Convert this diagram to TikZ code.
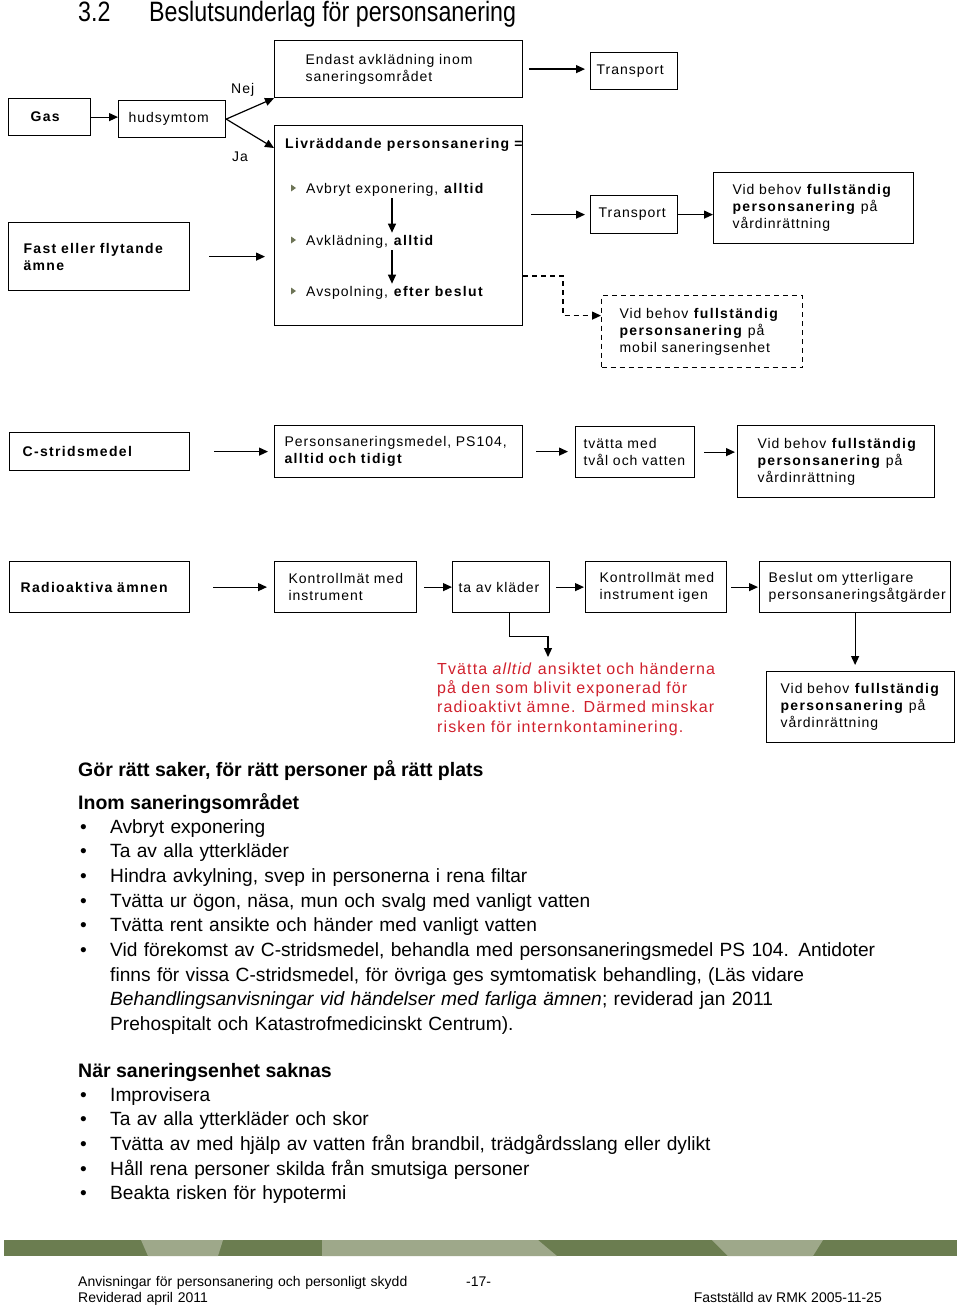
\documentclass[tikz,border=0pt]{standalone}
\usepackage{fontspec}
\setmainfont{Liberation Sans}
\newfontfamily\dia{Liberation Sans}[LetterSpace=7, BoldFeatures={LetterSpace=9.5}]
\newfontfamily\titlefont{Liberation Sans}[FakeStretch=0.83]
\usepackage{tikz}
\usetikzlibrary{arrows.meta}
\definecolor{barDark}{RGB}{107,125,80}
\definecolor{barLight}{RGB}{158,168,138}
\definecolor{warnRed}{RGB}{208,32,44}
\definecolor{triGreen}{RGB}{110,117,87}
\newcommand{\diatext}{\dia\fontsize{14}{17}\selectfont}
\newcommand{\listtext}{\fontsize{19.15}{24.7}\selectfont}

\tikzset{
  box/.style n args={3}{draw, line width=1.2pt, anchor=north west,
    inner xsep=0pt, inner ysep=0pt, align=left, font=\diatext,
    text width=#1pt, minimum height=#2pt,
    execute at begin node={\leftskip=#3pt}},
  pil/.style={-{Triangle[length=9pt,width=8pt]}, line width=1.2pt},
  dpil/.style={pil, dash pattern=on 5pt off 4pt},
  txt/.style={font=\diatext, inner sep=0pt, anchor=base west},
  listrad/.style={font=\listtext, inner sep=0pt, anchor=base west, align=left},
  rubrad/.style={listrad, font=\fontsize{19.5}{24.7}\selectfont\bfseries},
}

\begin{document}
\begin{tikzpicture}[x=1pt,y=-1pt]
\useasboundingbox (0,0) rectangle (960,1306);
\node[anchor=base west, inner sep=0pt, font=\titlefont\fontsize{28}{32}\selectfont] (nr) at (78,22) {3.2};
\node[anchor=base west, inner sep=0pt, font=\titlefont\fontsize{28}{32}\selectfont] (rubrik) at (149,22) {Beslutsunderlag för personsanering};

% gas
\node[box={82}{37}{22}] (gas) at (8,98) {\textbf{Gas}};
\node[box={107}{37}{10}] (hud) at (118,100) {hudsymtom};
\node[box={248}{57}{31}] (endast) at (274,40) {Endast avklädning inom\\saneringsområdet};
\node[box={87}{37}{6}] (trans1) at (590,52) {Transport};
\node[box={248}{200}{0}] (livr) at (274,125) {};
\node[txt] (nej) at (231,93) {Nej};
\node[txt] (ja) at (232,161) {Ja};

\draw[pil] (gas.east) -- (gas.east -| hud.west);
\draw[pil] (hud.east) -- (endast.south west);
\draw[pil] (hud.east) -- ([yshift=-23pt]livr.north west);
\draw[pil, shorten <=6pt, shorten >=5pt] (endast.east) -- (endast.east -| trans1.west);

% livraddande
\node[txt] (livrh) at (285,148) {\textbf{Livräddande personsanering =}};
\node[txt, inner ysep=2pt] (i1) at (306,193) {Avbryt exponering, \textbf{alltid}};
\node[txt, inner ysep=2pt] (i2) at (306,245) {Avklädning, \textbf{alltid}};
\node[txt, inner ysep=2pt] (i3) at (306,296) {Avspolning, \textbf{efter beslut}};
\foreach \y in {188,240,291}
  \fill[triGreen] (291,\y-3.5) -- (296,\y) -- (291,\y+3.5) -- cycle;
\coordinate (ax) at (392,0);
\draw[pil] (i1.south -| ax) -- (i2.north -| ax);
\draw[pil] (i2.south -| ax) -- (i3.north -| ax);

\node[box={181}{68}{15}] (fast) at (8,222) {\textbf{Fast eller flytande}\\\textbf{ämne}};
\node[box={87}{38}{8}] (trans2) at (590,195) {Transport};
\node[box={200}{71}{19}] (vard1) at (713,172) {Vid behov \textbf{fullständig}\\\textbf{personsanering} på\\vårdinrättning};
\node[box={201}{72}{18}, dash pattern=on 5pt off 4pt] (mob) at (601,295) {Vid behov \textbf{fullständig}\\\textbf{personsanering} på\\mobil saneringsenhet};

\draw[pil, shorten <=19pt, shorten >=9pt] (fast.east) -- (fast.east -| livr.west);
\draw[pil, shorten <=8pt, shorten >=5pt] (trans2.west -| livr.east) -- (trans2.west);
\draw[pil] (trans2.east) -- (trans2.east -| vard1.west);
\coordinate (dk) at (563,276);
\coordinate (mobin) at ([yshift=16pt]mob.west);
\draw[dpil] (livr.east |- dk) -- (dk) -- (dk |- mobin) -- (mobin);

% c-stridsmedel
\node[box={180}{38}{13}] (cstr) at (9,432) {\textbf{C-stridsmedel}};
\node[box={248}{52}{10}] (psm) at (274,425) {Personsaneringsmedel, PS104,\\\textbf{alltid och tidigt}};
\node[box={119}{51}{8}] (tvatta) at (575,426) {tvätta med\\tvål och vatten};
\node[box={197}{72}{20}] (vard2) at (737,425) {Vid behov \textbf{fullständig}\\\textbf{personsanering} på\\vårdinrättning};

\draw[pil, shorten <=24pt, shorten >=6pt] (cstr.east) -- (cstr.east -| psm.west);
\draw[pil, shorten <=13pt, shorten >=7pt] (psm.east) -- (psm.east -| tvatta.west);
\draw[pil, shorten <=9pt, shorten >=2pt] (tvatta.east) -- (tvatta.east -| vard2.west);

% radioaktiva
\node[box={180}{51}{11}] (radio) at (9,561) {\textbf{Radioaktiva ämnen}};
\node[box={142}{51}{14}] (kon1) at (274,561) {Kontrollmät med\\instrument};
\node[box={97}{51}{6}] (tak) at (452,561) {ta av kläder};
\node[box={141}{51}{14}] (kon2) at (585,561) {Kontrollmät med\\instrument igen};
\node[box={191}{51}{9}] (bes) at (759,561) {Beslut om ytterligare\\personsaneringsåtgärder};
\node[box={188}{71}{14}] (vard3) at (766,671) {Vid behov \textbf{fullständig}\\\textbf{personsanering} på\\vårdinrättning};
\node[txt, align=left, text width=300pt, text=warnRed, font=\dia\fontsize{16}{19.4}\selectfont] (varn) at (437,674)
  {Tvätta \textit{alltid} ansiktet och händerna\\på den som blivit exponerad för\\radioaktivt ämne. Därmed minskar\\risken för internkontaminering.};

\draw[pil, shorten <=23pt, shorten >=7pt] (radio.east) -- (radio.east -| kon1.west);
\draw[pil, shorten <=7pt] (kon1.east) -- (kon1.east -| tak.west);
\draw[pil, shorten <=6pt, shorten >=1pt] (tak.east) -- (tak.east -| kon2.west);
\draw[pil, shorten <=4pt, shorten >=1pt] (kon2.east) -- (kon2.east -| bes.west);
\coordinate (vn) at (548,657);
\draw[pil] ([xshift=8pt]tak.south) -- ++(0,23) -| (vn);
\draw[pil, shorten >=6pt] (bes.south) -- (bes.south |- vard3.north);

% text
\node[rubrad] (h1) at (78,776) {Gör rätt saker, för rätt personer på rätt plats};
\node[rubrad] (h2) at (78,809) {Inom saneringsområdet};
\node[listrad, text width=820pt] (l1) at (110,833) {Avbryt exponering\\Ta av alla ytterkläder\\Hindra avkylning, svep in personerna i rena filtar\\Tvätta ur ögon, näsa, mun och svalg med vanligt vatten\\Tvätta rent ansikte och händer med vanligt vatten\\Vid förekomst av C-stridsmedel, behandla med personsaneringsmedel PS 104. Antidoter\\finns för vissa C-stridsmedel, för övriga ges symtomatisk behandling, (Läs vidare\\\textit{Behandlingsanvisningar vid händelser med farliga ämnen}; reviderad jan 2011\\Prehospitalt och Katastrofmedicinskt Centrum).};
\foreach \k in {0,...,5}
  \node[listrad] (pa\k) at (80,{833+24.7*\k}) {•};
\node[rubrad] (h3) at (78,1077) {När saneringsenhet saknas};
\node[listrad, text width=820pt] (l2) at (110,1101) {Improvisera\\Ta av alla ytterkläder och skor\\Tvätta av med hjälp av vatten från brandbil, trädgårdsslang eller dylikt\\Håll rena personer skilda från smutsiga personer\\Beakta risken för hypotermi};
\foreach \k in {0,...,4}
  \node[listrad] (pb\k) at (80,{1101+24.7*\k}) {•};

% footer
\fill[barDark] (4,1240) rectangle (957,1256);
\fill[barLight] (141,1240) -- (223,1240) -- (218,1256) -- (148,1256) -- cycle;
\fill[barLight] (322,1240) -- (538,1240) -- (557,1256) -- (322,1256) -- cycle;
\fill[barLight] (712,1240) -- (823,1240) -- (813,1256) -- (728,1256) -- cycle;
\node[anchor=base west, inner sep=0pt, font=\fontsize{14}{16}\selectfont, align=left, text width=380pt] (fot) at (78,1286) {Anvisningar för personsanering och personligt skydd\\Reviderad april 2011};
\node[anchor=base west, inner sep=0pt, font=\fontsize{14}{16}\selectfont] (sida) at (466,1286) {-17-};
\node[anchor=base east, inner sep=0pt, font=\fontsize{14}{16}\selectfont] (rmk) at (882,1302) {Fastställd av RMK 2005-11-25};
\end{tikzpicture}
\end{document}
